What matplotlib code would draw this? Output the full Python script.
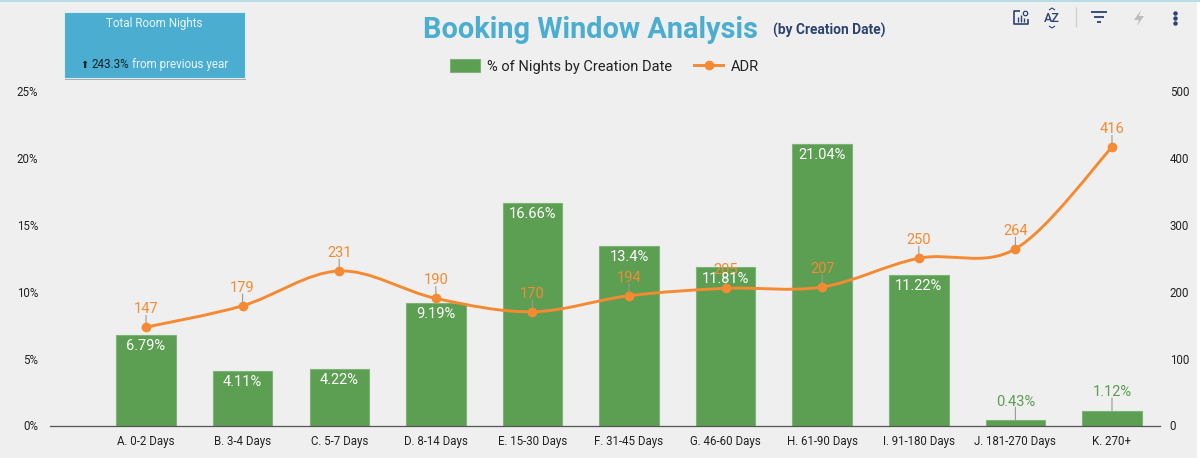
import numpy as np
import matplotlib
matplotlib.use("Agg")
import matplotlib.pyplot as plt
from matplotlib.path import Path
from matplotlib.patches import PathPatch, Rectangle
from matplotlib.lines import Line2D
from matplotlib.patches import Patch

plt.rcParams["font.family"] = ["Roboto", "DejaVu Sans"]

categories = ["A. 0-2 Days", "B. 3-4 Days", "C. 5-7 Days", "D. 8-14 Days", "E. 15-30 Days",
              "F. 31-45 Days", "G. 46-60 Days", "H. 61-90 Days", "I. 91-180 Days",
              "J. 181-270 Days", "K. 270+"]
pct_nights = [6.79, 4.11, 4.22, 9.19, 16.66, 13.4, 11.81, 21.04, 11.22, 0.43, 1.12]
pct_labels = ["6.79%", "4.11%", "4.22%", "9.19%", "16.66%", "13.4%", "11.81%", "21.04%",
              "11.22%", "0.43%", "1.12%"]
adr = [147, 179, 231, 190, 170, 194, 205, 207, 250, 264, 416]
left_ticks = [0, 5, 10, 15, 20, 25]
right_ticks = [0, 100, 200, 300, 400, 500]

GREEN = "#5C9E52"
ORANGE = "#F58A32"
BLUE = "#4BADD0"
NAVY = "#2C4370"
BG = "#EFEFEF"
W, H = 1200, 458


def fx(x):
    return x / W


def fy(y):
    return 1 - y / H


fig = plt.figure(figsize=(12, 4.58), dpi=100, facecolor="white")
fig.patches.append(Rectangle((0, 0), fx(1197), 1, transform=fig.transFigure, fc=BG, ec="none", zorder=-5))
fig.patches.append(Rectangle((0, fy(1.5)), 1, 1.5 / H, transform=fig.transFigure, fc="#B5DCE8", ec="none", zorder=-4))

ax = fig.add_axes([fx(50), fy(425.5), fx(1110), 334.5 / H])
ax.patch.set_alpha(0)
ax2 = ax.twinx()
ax2.patch.set_alpha(0)

x = np.arange(len(categories))
ax.bar(x, pct_nights, width=0.615, color=GREEN, edgecolor="#7FB377", linewidth=0.8)
ax.set_xlim(-0.994, 10.497)
ax.set_ylim(0, 25)
ax2.set_ylim(0, 500)
ax.set_xticks(x, categories)
ax.set_yticks(left_ticks, [f"{t}%" for t in left_ticks])
ax2.set_yticks(right_ticks, [str(t) for t in right_ticks])
ax.tick_params(axis="x", length=0, labelsize=8.3, pad=7, labelcolor="#222222")
ax.tick_params(axis="y", length=0, labelsize=8.3, pad=8.5, labelcolor="#222222")
ax2.tick_params(axis="y", length=0, labelsize=8.3, pad=7, labelcolor="#222222")
for a in (ax, ax2):
    for name, sp in a.spines.items():
        sp.set_visible(False)
ax.spines["bottom"].set_visible(True)
ax.spines["bottom"].set_color("#555555")
ax.spines["bottom"].set_linewidth(0.9)

# smooth ADR line, catmull-rom segments through the values
verts = [(x[0], adr[0])]
codes = [Path.MOVETO]
n = len(adr)
for i in range(n - 1):
    p0 = (x[max(i - 1, 0)], adr[max(i - 1, 0)])
    p1 = (x[i], adr[i])
    p2 = (x[i + 1], adr[i + 1])
    p3 = (x[min(i + 2, n - 1)], adr[min(i + 2, n - 1)])
    verts.append((p1[0] + (p2[0] - p0[0]) / 6, p1[1] + (p2[1] - p0[1]) / 6))
    verts.append((p2[0] - (p3[0] - p1[0]) / 6, p2[1] - (p3[1] - p1[1]) / 6))
    verts.append(p2)
    codes += [Path.CURVE4] * 3
ax2.add_patch(PathPatch(Path(verts, codes), fc="none", ec=ORANGE, lw=2.1, zorder=3, capstyle="round"))
ax2.plot(x, adr, ls="none", marker="o", ms=6, color=ORANGE, zorder=4)

# leader lines and value labels
for xi, v in zip(x, adr):
    ax2.annotate("", xy=(xi, v), xytext=(0, 8.5), textcoords="offset points",
                 arrowprops=dict(arrowstyle="-", color="#999999", lw=0.8, shrinkA=0, shrinkB=0), zorder=2)
    ax2.annotate(str(v), xy=(xi, v), xytext=(0, 13), textcoords="offset points", ha="center", va="center",
                 fontsize=10.5, color=ORANGE, zorder=5)
for xi, v, lab in zip(x, pct_nights, pct_labels):
    if v < 2:
        ax2.annotate("", xy=(xi, v), xycoords=ax.transData, xytext=(0, 9), textcoords="offset points",
                     arrowprops=dict(arrowstyle="-", color="#999999", lw=0.8, shrinkA=0, shrinkB=0), zorder=2)
        ax2.annotate(lab, xy=(xi, v), xycoords=ax.transData, xytext=(0, 13), textcoords="offset points",
                     ha="center", va="center", fontsize=10.5, color=GREEN, zorder=6)
    else:
        ax2.annotate(lab, xy=(xi, v), xycoords=ax.transData, xytext=(0, -8), textcoords="offset points",
                     ha="center", va="center", fontsize=10.5, color="white", zorder=6)

# title
fig.text(fx(423), fy(30), "Booking Window Analysis", fontsize=20.8, fontweight="bold", color=BLUE, va="center", ha="left")
fig.text(fx(773), fy(30), "(by Creation Date)", fontsize=9.9, fontweight="bold", color=NAVY, va="center", ha="left")

# legend
handles = [Patch(fc=GREEN, ec="#7FB377", lw=0.8),
           Line2D([0], [0], color=ORANGE, lw=2.1, marker="o", ms=6)]
fig.legend(handles, ["% of Nights by Creation Date", "ADR"], loc="center", bbox_to_anchor=(fx(604.5), fy(66.5)),
           frameon=False, ncol=2, fontsize=10.5, handlelength=2, handleheight=1, handletextpad=0.5,
           columnspacing=1.5, labelcolor="#222222")

# scorecard
fig.patches.append(Rectangle((fx(64.5), fy(80)), 181.5 / W, 66 / H, transform=fig.transFigure, fc="#A8A8A8", ec="none", zorder=-2))
fig.patches.append(Rectangle((fx(64), fy(78)), 181 / W, 66 / H, transform=fig.transFigure, fc=BLUE, ec="#D8EDF4", lw=0.8, zorder=-1))
fig.text(fx(154.5), fy(23), "Total Room Nights", fontsize=8.4, color="#E8F5FA", ha="center", va="center")
fig.text(fx(80), fy(65), "\u2b06", fontsize=7, color="#10222C", ha="left", va="center")
fig.text(fx(91), fy(64.5), "243.3%", fontsize=8.4, color="#10222C", ha="left", va="center")
fig.text(fx(132), fy(64.5), "from previous year", fontsize=8.4, color="#E8F5FA", ha="left", va="center")

# toolbar icons
def icon_line(xs, ys, color=NAVY, lw=1.2):
    fig.add_artist(Line2D([fx(v) for v in xs], [fy(v) for v in ys], color=color, lw=lw, solid_capstyle="butt"))


icon_line([1020, 1014, 1014, 1028, 1028], [11, 11, 24, 24, 19])
for bx, top in [(1018, 17), (1021, 15), (1024, 18)]:
    icon_line([bx, bx], [top, 22], lw=1)
fig.add_artist(Line2D([fx(1025)], [fy(13)], marker="o", ms=3.2, mfc="none", mec=NAVY, mew=0.9, ls="none"))
fig.text(fx(1052), fy(18), "AZ", fontsize=9, color=NAVY, ha="center", va="center", fontweight="medium")
icon_line([1049, 1052, 1055], [10, 8, 10], lw=0.8)
icon_line([1049, 1052, 1055], [26, 28, 26], lw=0.8)
icon_line([1076, 1076], [7, 27], color="#CFCFCF", lw=0.9)
icon_line([1091, 1107], [12, 12], lw=1.3)
icon_line([1094, 1104], [17, 17], lw=1.3)
icon_line([1097, 1101], [22, 22], lw=1.3)
fig.add_artist(plt.Polygon([(fx(1141), fy(10)), (fx(1134), fy(20)), (fx(1139), fy(20)), (fx(1137), fy(26)),
                            (fx(1144), fy(16)), (fx(1139), fy(16))], closed=True, fc="#BDBDBD", ec="none",
                           transform=fig.transFigure))
for dy in (12.7, 17.7, 23):
    fig.add_artist(Line2D([fx(1174.5)], [fy(dy)], marker="o", ms=2.2, color=NAVY, ls="none"))

fig.savefig("out.png", dpi=100, facecolor=fig.get_facecolor())
